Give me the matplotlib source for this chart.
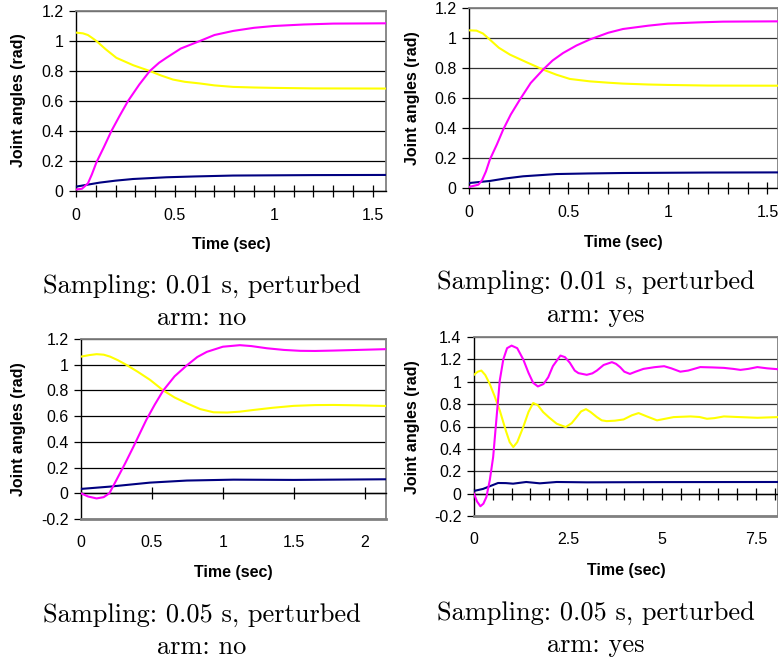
import matplotlib
matplotlib.use("Agg")
import matplotlib.pyplot as plt
from matplotlib.ticker import MultipleLocator, FuncFormatter

# ---------------- data ----------------
# Panel A: Sampling 0.01 s, perturbed arm: no
a_mag_t = [0, 0.03, 0.06, 0.08, 0.103, 0.14, 0.179, 0.22, 0.263, 0.32, 0.373, 0.42, 0.457, 0.53, 0.626, 0.70,
           0.794, 0.90, 1.0, 1.15, 1.30, 1.45, 1.567]
a_mag_y = [0.01, 0.015, 0.05, 0.11, 0.19, 0.29, 0.40, 0.50, 0.60, 0.71, 0.80, 0.855, 0.888, 0.95, 1.0, 1.04,
           1.067, 1.088, 1.10, 1.11, 1.116, 1.117, 1.118]
a_yel_t = [0, 0.035, 0.06, 0.08, 0.103, 0.15, 0.204, 0.29, 0.373, 0.43, 0.49, 0.55, 0.626, 0.70, 0.794, 0.9, 1.0,
           1.2, 1.567]
a_yel_y = [1.056, 1.051, 1.04, 1.022, 1.0, 0.945, 0.888, 0.838, 0.80, 0.77, 0.743, 0.728, 0.717, 0.704, 0.694,
           0.69, 0.6875, 0.684, 0.683]
a_nav_t = [0, 0.12, 0.2, 0.288, 0.457, 0.6, 0.794, 1.2, 1.567]
a_nav_y = [0.029, 0.056, 0.069, 0.08, 0.0915, 0.097, 0.103, 0.106, 0.107]

# Panel B: Sampling 0.01 s, perturbed arm: yes
b_mag_t = [0, 0.047, 0.065, 0.085, 0.105, 0.14, 0.172, 0.21, 0.256, 0.31, 0.373, 0.42, 0.473, 0.54, 0.607, 0.70,
           0.774, 0.90, 1.0, 1.15, 1.276, 1.40, 1.553]
b_mag_y = [0.007, 0.022, 0.05, 0.11, 0.19, 0.29, 0.39, 0.49, 0.59, 0.70, 0.79, 0.85, 0.90, 0.95, 0.99, 1.035,
           1.06, 1.082, 1.096, 1.104, 1.109, 1.110, 1.111]
b_yel_t = [0, 0.038, 0.07, 0.105, 0.15, 0.206, 0.29, 0.373, 0.44, 0.507, 0.607, 0.70, 0.774, 0.9, 1.0, 1.2, 1.553]
b_yel_y = [1.051, 1.049, 1.03, 0.989, 0.935, 0.889, 0.838, 0.789, 0.755, 0.727, 0.711, 0.702, 0.696, 0.69,
           0.687, 0.683, 0.682]
b_nav_t = [0, 0.105, 0.18, 0.272, 0.44, 0.6, 0.774, 1.2, 1.553]
b_nav_y = [0.033, 0.047, 0.063, 0.078, 0.093, 0.097, 0.100, 0.103, 0.104]

# Panel C: Sampling 0.05 s, perturbed arm: no
c_mag_t = [0, 0.05, 0.11, 0.16, 0.2, 0.25, 0.31, 0.37, 0.46, 0.52, 0.58, 0.66, 0.746, 0.82, 0.887, 1.0, 1.12,
           1.2, 1.31, 1.43, 1.546, 1.65, 1.78, 1.95, 2.15]
c_mag_y = [0.0, -0.025, -0.04, -0.03, 0.0, 0.104, 0.23, 0.363, 0.57, 0.69, 0.80, 0.91, 0.995, 1.06, 1.10, 1.14,
           1.152, 1.145, 1.128, 1.115, 1.108, 1.107, 1.11, 1.115, 1.121]
c_yel_t = [0, 0.06, 0.11, 0.16, 0.205, 0.26, 0.32, 0.4, 0.487, 0.58, 0.66, 0.746, 0.84, 0.934, 1.03, 1.12,
           1.216, 1.35, 1.5, 1.65, 1.78, 1.95, 2.15]
c_yel_y = [1.063, 1.075, 1.082, 1.078, 1.063, 1.035, 0.999, 0.945, 0.882, 0.80, 0.745, 0.70, 0.655, 0.63, 0.628,
           0.635, 0.648, 0.665, 0.68, 0.686, 0.687, 0.684, 0.679]
c_nav_t = [0, 0.205, 0.35, 0.487, 0.746, 1.075, 1.5, 2.15]
c_nav_y = [0.034, 0.052, 0.068, 0.083, 0.099, 0.106, 0.104, 0.109]

# Panel D: Sampling 0.05 s, perturbed arm: yes
d_mag_t = [0, 0.08, 0.17, 0.25, 0.33, 0.42, 0.51, 0.6, 0.685, 0.78, 0.88, 1.0, 1.15, 1.31, 1.45, 1.575, 1.7,
           1.85, 1.975, 2.1, 2.30, 2.42, 2.55, 2.68, 2.78, 3.0, 3.15, 3.27, 3.45, 3.67, 3.78, 3.89, 4.0, 4.15,
           4.3, 4.51, 4.8, 5.06, 5.25, 5.49, 5.7, 6.02, 6.35, 6.65, 6.9, 7.09, 7.3, 7.54, 7.8, 8.09]
d_mag_y = [0.0, -0.07, -0.113, -0.09, -0.03, 0.12, 0.327, 0.68, 1.01, 1.2, 1.3, 1.323, 1.3, 1.2, 1.08, 0.99,
           0.958, 0.98, 1.04, 1.14, 1.234, 1.22, 1.17, 1.10, 1.077, 1.062, 1.075, 1.10, 1.15, 1.175, 1.16, 1.13,
           1.09, 1.07, 1.09, 1.115, 1.13, 1.139, 1.12, 1.09, 1.10, 1.131, 1.128, 1.124, 1.115, 1.106, 1.115,
           1.131, 1.12, 1.112]
d_yel_t = [0, 0.1, 0.196, 0.3, 0.42, 0.55, 0.685, 0.85, 0.95, 1.045, 1.15, 1.31, 1.45, 1.575, 1.7, 1.84, 2.0,
           2.2, 2.44, 2.6, 2.73, 2.85, 2.98, 3.1, 3.27, 3.4, 3.53, 3.75, 3.98, 4.2, 4.38, 4.6, 4.87, 5.1, 5.31,
           5.76, 6.0, 6.2, 6.4, 6.65, 7.0, 7.54, 8.09]
d_yel_y = [1.062, 1.09, 1.10, 1.06, 0.98, 0.87, 0.744, 0.56, 0.46, 0.416, 0.46, 0.595, 0.73, 0.81, 0.79,
           0.729, 0.68, 0.625, 0.595, 0.63, 0.684, 0.735, 0.755, 0.73, 0.684, 0.655, 0.648, 0.652, 0.663, 0.70,
           0.72, 0.69, 0.655, 0.67, 0.684, 0.69, 0.685, 0.669, 0.675, 0.69, 0.685, 0.678, 0.684]
d_nav_t = [0, 0.24, 0.45, 0.64, 0.85, 1.04, 1.39, 1.75, 2.2, 3.0, 5.0, 8.09]
d_nav_y = [0.024, 0.042, 0.07, 0.095, 0.094, 0.089, 0.104, 0.092, 0.104, 0.101, 0.103, 0.104]

captions = [("Sampling: 0.01 s, perturbed", "arm: no"),
            ("Sampling: 0.01 s, perturbed", "arm: yes"),
            ("Sampling: 0.05 s, perturbed", "arm: no"),
            ("Sampling: 0.05 s, perturbed", "arm: yes")]

MAG, YEL, NAV = "#FF00FF", "#FFFF00", "#000080"

W, H = 778, 660
fig = plt.figure(figsize=(W / 100, H / 100), dpi=100)

def ax_at(l, r, t, b):
    return fig.add_axes([l / W, 1 - b / H, (r - l) / W, (b - t) / H])

panels = [
    dict(box=(76, 386, 11, 191), xlim=(0, 1.567), ylim=(0, 1.2), ystep=0.2, xmaj=0.5, xmin=0.1,
         data=(a_mag_t, a_mag_y, a_yel_t, a_yel_y, a_nav_t, a_nav_y), grid="black",
         xlab=(231, 245), ylab=(19, 100), cap=(202, 286, 318)),
    dict(box=(469, 778, 8, 188), xlim=(0, 1.553), ylim=(0, 1.2), ystep=0.2, xmaj=0.5, xmin=0.1,
         data=(b_mag_t, b_mag_y, b_yel_t, b_yel_y, b_nav_t, b_nav_y), grid="#333333",
         xlab=(623, 243), ylab=(412, 98), cap=(596, 282, 315)),
    dict(box=(81, 386, 339, 519), xlim=(0, 2.15), ylim=(-0.2, 1.2), ystep=0.2, xmaj=0.5, xmin=None,
         data=(c_mag_t, c_mag_y, c_yel_t, c_yel_y, c_nav_t, c_nav_y), grid="black",
         xlab=(233, 573), ylab=(19, 429), cap=(202, 615, 647)),
    dict(box=(474, 778, 337, 516), xlim=(0, 8.09), ylim=(-0.2, 1.4), ystep=0.2, xmaj=2.5, xmin=0.5,
         data=(d_mag_t, d_mag_y, d_yel_t, d_yel_y, d_nav_t, d_nav_y), grid="#333333",
         xlab=(626, 570), ylab=(412, 427), cap=(596, 613, 645)),
]

for i, p in enumerate(panels):
    l, r, t, b = p["box"]
    ax = ax_at(l, r, t, b)
    mt, my, yt, yy, nt, ny = p["data"]
    ax.plot(nt, ny, color=NAV, lw=1.5, zorder=3, solid_joinstyle="round")
    ax.plot(yt, yy, color=YEL, lw=1.5, zorder=3, solid_joinstyle="round")
    ax.plot(mt, my, color=MAG, lw=1.5, zorder=3, solid_joinstyle="round")
    ax.set_xlim(*p["xlim"])
    ax.set_ylim(*p["ylim"])
    ax.yaxis.set_major_locator(MultipleLocator(p["ystep"]))
    ax.xaxis.set_major_locator(MultipleLocator(p["xmaj"]))
    if p["xmin"]:
        ax.xaxis.set_minor_locator(MultipleLocator(p["xmin"]))
    ax.yaxis.grid(True, color=p["grid"], lw=0.9)
    ax.set_axisbelow(True)
    for s in ("top", "right"):
        ax.spines[s].set_color("#808080")
        ax.spines[s].set_linewidth(1.3)
    ax.spines["left"].set_color("black")
    ax.spines["left"].set_linewidth(1.0)
    ax.spines["bottom"].set_color("black")
    ax.spines["bottom"].set_linewidth(1.0)
    y0, y1 = p["ylim"]
    if y0 < 0:
        ax.spines["bottom"].set_position(("data", 0))
        ax.axhline(y0, color="#808080", lw=2.0, zorder=2.6, clip_on=False)
        pad_px = (b - t) * (0 - y0) / (y1 - y0) + 10
        xpad = pad_px * 0.72
    else:
        xpad = 8
    ax.tick_params(axis="x", which="both", direction="inout", length=8, width=0.9,
                   labelsize=11.5, pad=xpad, colors="black")
    ax.tick_params(axis="y", which="both", direction="out", length=5, width=0.9,
                   labelsize=11.5, pad=4)
    ax.xaxis.set_major_formatter(FuncFormatter(lambda v, pos: f"{v:g}"))
    ax.yaxis.set_major_formatter(FuncFormatter(lambda v, pos: f"{v:g}"))
    for lab in ax.get_xticklabels() + ax.get_yticklabels():
        lab.set_family("Liberation Sans")

    xl, yl = p["xlab"]
    fig.text(xl / W, 1 - yl / H, "Time (sec)", ha="center", va="center",
             family="Liberation Sans", weight="bold", fontsize=11.5)
    yx, yy_ = p["ylab"]
    fig.text(yx / W, 1 - yy_ / H, "Joint angles (rad)", ha="center", va="center", rotation=90,
             family="Liberation Sans", weight="bold", fontsize=11.5)
    cx, c1, c2 = p["cap"]
    cap = captions[i]
    fig.text(cx / W, 1 - c1 / H, cap[0], ha="center", va="center", family="cmr10", fontsize=19)
    fig.text(cx / W, 1 - c2 / H, cap[1], ha="center", va="center", family="cmr10", fontsize=19)

fig.savefig("out.png", dpi=100)
